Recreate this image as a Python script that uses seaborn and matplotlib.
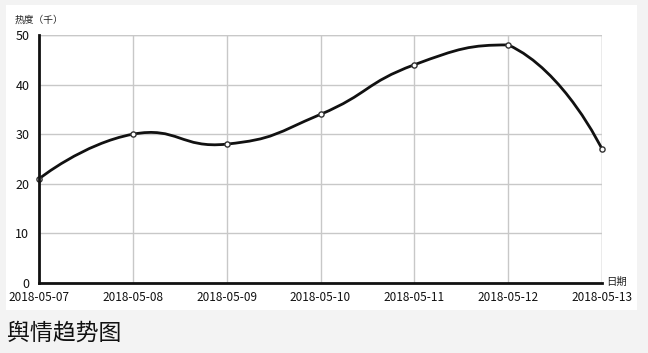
import numpy as np
import pandas as pd
import seaborn as sns
import matplotlib
matplotlib.use("Agg")
import matplotlib.pyplot as plt
from matplotlib.path import Path
from matplotlib.patches import PathPatch, Rectangle

dates = ["2018-05-07", "2018-05-08", "2018-05-09", "2018-05-10",
         "2018-05-11", "2018-05-12", "2018-05-13"]
heat = [21, 30, 28, 34, 44, 48, 27]
y_ticks = [0, 10, 20, 30, 40, 50]
y_label = "热度（千）"
x_label = "日期"
title = "舆情趋势图"

sns.set_theme(style="white")
plt.rcParams['font.family'] = ['Noto Sans CJK SC', 'DejaVu Sans']

W, H = 648, 353
fig = plt.figure(figsize=(W / 100, H / 100), dpi=100)
fig.patch.set_facecolor("#f3f3f3")
fig.patches.append(Rectangle((6 / W, 1 - 310 / H), (637 - 6) / W, (310 - 5) / H,
                             transform=fig.transFigure, facecolor="white",
                             edgecolor="none", zorder=-5))

left, right, top, bottom = 39, 602, 35, 283
ax = fig.add_axes([left / W, 1 - bottom / H, (right - left) / W, (bottom - top) / H])
ax.set_facecolor("none")

df = pd.DataFrame({"pos": np.arange(len(dates)), "heat": heat})

# smooth curve (echarts-like bezier through the data points)
xs = df["pos"].to_numpy(float)
ys = df["heat"].to_numpy(float)
sx, sy = 94.0, 4.96  # pixel scale per unit for distance ratios
smooth = 0.5
ymin, ymax = ys.min(), ys.max()
cps = []
for i in range(len(xs)):
    if i == 0 or i == len(xs) - 1:
        cps.append(((xs[i], ys[i]), (xs[i], ys[i])))
        continue
    vx, vy = xs[i + 1] - xs[i - 1], ys[i + 1] - ys[i - 1]
    d0 = np.hypot((xs[i] - xs[i - 1]) * sx, (ys[i] - ys[i - 1]) * sy)
    d1 = np.hypot((xs[i + 1] - xs[i]) * sx, (ys[i + 1] - ys[i]) * sy)
    r = d0 / (d0 + d1)
    c0 = [xs[i] - vx * smooth * r, ys[i] - vy * smooth * r]
    c1 = [xs[i] + vx * smooth * (1 - r), ys[i] + vy * smooth * (1 - r)]
    c0[1] = min(max(c0[1], ymin), ymax)
    c1[1] = min(max(c1[1], ymin), ymax)
    cps.append((tuple(c0), tuple(c1)))
verts = [(xs[0], ys[0])]
codes = [Path.MOVETO]
for i in range(len(xs) - 1):
    verts += [cps[i][1], cps[i + 1][0], (xs[i + 1], ys[i + 1])]
    codes += [Path.CURVE4] * 3
ax.add_patch(PathPatch(Path(verts, codes), facecolor="none", edgecolor="#111111",
                       linewidth=2.0, zorder=3, clip_on=False))

sns.scatterplot(data=df, x="pos", y="heat", ax=ax, s=14, color="white",
                edgecolor="#333333", linewidth=1.0, zorder=4, clip_on=False)

ax.set_xlim(0, len(dates) - 1)
ax.set_ylim(0, 50)
ax.set_xticks(range(len(dates)))
ax.set_xticklabels(dates, fontsize=8.5, color="#111111")
ax.set_yticks(y_ticks)
ax.set_yticklabels([str(v) for v in y_ticks], fontsize=9, color="#111111")
ax.set_xlabel("")
ax.set_ylabel("")
ax.grid(True, color="#c8c8c8", linewidth=1.0)
ax.set_axisbelow(True)
for s in ["top", "right"]:
    ax.spines[s].set_visible(False)
for s in ["left", "bottom"]:
    ax.spines[s].set_color("#111111")
    ax.spines[s].set_linewidth(2.0)
    ax.spines[s].set_zorder(5)
ax.tick_params(axis="y", length=0, pad=7)
ax.tick_params(axis="x", length=0, pad=6)
for lbl in ax.get_yticklabels():
    lbl.set_verticalalignment("center_baseline")
ax.axvline(len(dates) - 1, color="#c8c8c8", linewidth=1.0, zorder=0.5)
ax.axhline(50, color="#c8c8c8", linewidth=1.0, zorder=0.5)

fig.text(15 / W, 1 - 20 / H, y_label, fontsize=7, color="#222222", va="center", ha="left")
fig.text(627 / W, 1 - 282 / H, x_label, fontsize=7.5, color="#222222", va="center", ha="right")
fig.text(7 / W, 1 - 333 / H, title, fontsize=16.5, color="#111111", va="center", ha="left")

fig.savefig("out.png", dpi=100, facecolor=fig.get_facecolor())
